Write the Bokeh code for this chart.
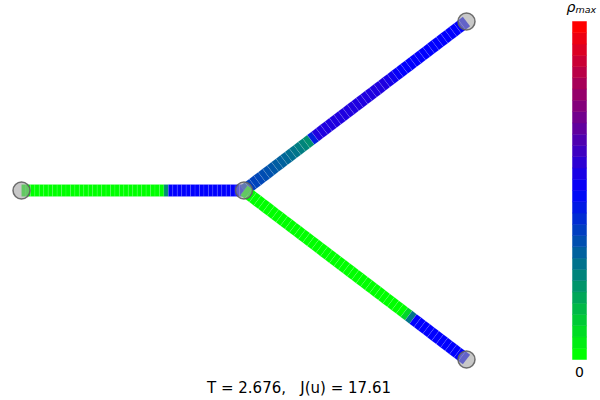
import numpy as np
from bokeh.plotting import figure
from bokeh.models import Range1d, Label, ColumnDataSource
from bokeh.transform import linear_cmap
from bokeh.embed import file_html
from bokeh.resources import INLINE

# ---------------- data ----------------
node_x = [0.0, 1.0, 2.0, 2.0]
node_y = [0.0, 0.0, 0.7596, -0.7596]
edge_from = [0, 1, 1]
edge_to = [1, 2, 3]

# cell densities (normalised by rho_max), 50 cells per edge
rho_edge0 = [0.0] * 32 + [0.22] + [0.5] * 17
rho_edge1 = ([0.38, 0.375, 0.37, 0.36, 0.35, 0.34, 0.33, 0.32, 0.31, 0.30,
              0.285, 0.27, 0.255, 0.24, 0.22]
             + [0.44] + [0.56] * 16 + [0.545, 0.53, 0.515] + [0.5] * 15)
rho_edge2 = [0.0] * 36 + [0.08, 0.27] + [0.5] * 12
rho_edges = [rho_edge0, rho_edge1, rho_edge2]

title_text = "T = 2.676,\u00a0\u00a0 J(u) = 17.61"
cbar_bottom_label = "0"
n_cbar = 30


def cmap(v):
    if v <= 0.5:
        t = v / 0.5
        r, g, b = 0, 255 * (1 - t), 255 * t
    else:
        t = (v - 0.5) / 0.5
        r, g, b = 255 * t, 0, 255 * (1 - t)
    return "#%02x%02x%02x" % (int(round(r)), int(round(g)), int(round(b)))


palette256 = [cmap(i / 255) for i in range(256)]
palette_cb = [cmap(i / (n_cbar - 1)) for i in range(n_cbar)]

# ---------------- figure ----------------
W, H = 600, 400
s = 222.5  # px per unit; node 0 sits 21 px from left, 190 px from top
p = figure(width=W, height=H, output_backend="svg", toolbar_location=None,
           x_range=Range1d(-21 / s, (W - 21) / s),
           y_range=Range1d(-(H - 190) / s, 190 / s),
           min_border=0)
p.axis.visible = False
p.grid.visible = False
p.outline_line_color = None
p.background_fill_color = "white"
p.border_fill_color = "white"

# colorbar ranges: value 0 -> 359 px from top, value 1 -> 21 px; bar 572..586 px
p.extra_y_ranges = {"cby": Range1d(-(H - 359) / 338, 359 / 338)}
p.extra_x_ranges = {"cbx": Range1d(-572 / 14, (W - 572) / 14)}

# edge cells
half_w = 0.027
xs, ys, vals = [], [], []
for a, b, rho in zip(edge_from, edge_to, rho_edges):
    ax, ay = node_x[a], node_y[a]
    bx, by = node_x[b], node_y[b]
    dx, dy = bx - ax, by - ay
    L = np.hypot(dx, dy)
    nx, ny = -dy / L * half_w, dx / L * half_w
    n = len(rho)
    for k, v in enumerate(rho):
        x0, y0 = ax + dx * k / n, ay + dy * k / n
        x1, y1 = ax + dx * (k + 1) / n, ay + dy * (k + 1) / n
        xs.append([x0 + nx, x1 + nx, x1 - nx, x0 - nx])
        ys.append([y0 + ny, y1 + ny, y1 - ny, y0 - ny])
        vals.append(v)

src = ColumnDataSource(dict(xs=xs, ys=ys, v=vals))
p.patches("xs", "ys", source=src,
          fill_color=linear_cmap("v", palette256, 0, 1),
          line_color="white", line_alpha=0.2, line_width=0.5)

# nodes
p.scatter(node_x, node_y, size=17, marker="circle",
          fill_color=(164, 164, 164), fill_alpha=0.6,
          line_color=(95, 95, 95), line_width=1.5, line_alpha=0.9)

# colorbar
levels = np.linspace(0, 1, n_cbar + 1)
cb_src = ColumnDataSource(dict(bottom=levels[:-1], top=levels[1:],
                               mid=(levels[:-1] + levels[1:]) / 2))
p.quad(left=0, right=1, bottom="bottom", top="top", source=cb_src,
       fill_color=linear_cmap("mid", palette_cb, 0, 1),
       line_color=linear_cmap("mid", palette_cb, 0, 1), line_width=0.5,
       x_range_name="cbx", y_range_name="cby")

p.add_layout(Label(x=0.5, y=(359 - 371) / 338, text=cbar_bottom_label,
                   x_range_name="cbx", y_range_name="cby",
                   text_align="center", text_baseline="alphabetic",
                   text_font="DejaVu Sans", text_font_size="14px",
                   text_color="black"))
p.add_layout(Label(x=0.214, y=(359 - 6.5) / 338, text="ρ",
                   x_range_name="cbx", y_range_name="cby",
                   text_align="right", text_baseline="alphabetic",
                   text_font="DejaVu Sans", text_font_style="italic",
                   text_font_size="14px", text_color="black"))
p.add_layout(Label(x=0.214, y=(359 - 9) / 338, text="max",
                   x_range_name="cbx", y_range_name="cby",
                   text_align="left", text_baseline="alphabetic",
                   text_font="DejaVu Sans", text_font_style="italic",
                   text_font_size="9.5px", text_color="black"))

p.add_layout(Label(x=(298.5 - 21) / s, y=(190 - 387.5) / s, text=title_text,
                   text_align="center", text_baseline="alphabetic",
                   text_font="DejaVu Sans", text_font_size="15px",
                   text_color="black"))

open("out.html", "w").write(file_html(p, INLINE))
